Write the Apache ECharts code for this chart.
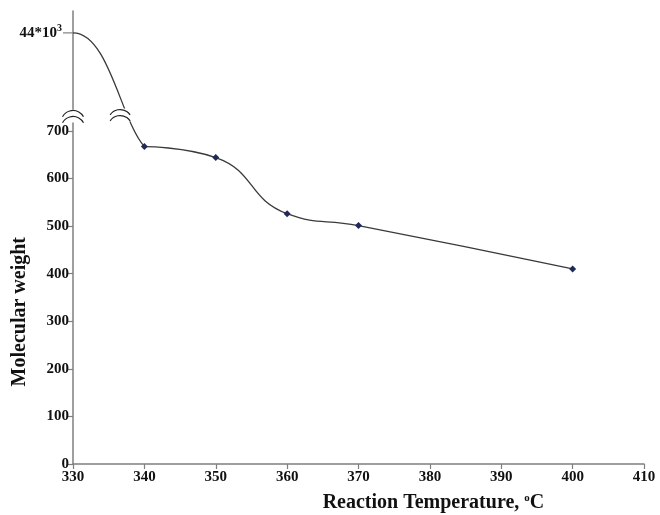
<!DOCTYPE html>
<html>
<head>
<meta charset="utf-8">
<script src="https://cdn.jsdelivr.net/npm/echarts@6/dist/echarts.min.js"></script>
<style>
  html, body { margin: 0; padding: 0; background: #fff; }
  #chart { width: 660px; height: 515px; }
</style>
</head>
<body>
<div id="chart"></div>
<script>
// data
const temperatures = [330, 340, 350, 360, 370, 400];
const molecularWeights = [44000, 667, 644, 526, 501, 410];
const xTicks = [330, 340, 350, 360, 370, 380, 390, 400, 410];
const yTicks = [0, 100, 200, 300, 400, 500, 600, 700];
const topValue = 44000;

// broken y axis: 0..700 linear, then compressed up to 44*10^3
const LOWER_MAX = 700;
const TOP_POS = 906;
const AXIS_MAX = 952;
const BREAK_POS = 745;
function toAxis(v) {
  if (v <= LOWER_MAX) return v;
  return LOWER_MAX + (v - LOWER_MAX) / (topValue - LOWER_MAX) * (TOP_POS - LOWER_MAX);
}

const font = 'Liberation Serif';
const axisColor = '#7f7f7f';
const lineColor = '#3a3a3a';

var myChart = echarts.init(document.getElementById('chart'));
myChart.setOption({
  animation: false,
  grid: { left: 73, right: 16, top: 11, bottom: 51 },
  xAxis: {
    type: 'value',
    min: 330,
    max: 410,
    interval: 10,
    splitLine: { show: false },
    axisLine: { lineStyle: { color: axisColor, width: 1.5 } },
    axisTick: { length: 5, lineStyle: { color: axisColor, width: 1.2 } },
    axisLabel: { margin: 6, color: '#111', fontFamily: font, fontWeight: 'bold', fontSize: 15 }
  },
  yAxis: {
    type: 'value',
    min: 0,
    max: AXIS_MAX,
    splitLine: { show: false },
    axisLine: { show: true, lineStyle: { color: axisColor, width: 1.5 } },
    axisTick: {
      show: true,
      length: 5,
      customValues: yTicks,
      lineStyle: { color: axisColor, width: 1.2 }
    },
    axisLabel: {
      margin: 4,
      customValues: yTicks.concat([TOP_POS]),
      color: '#111',
      fontFamily: font,
      fontWeight: 'bold',
      fontSize: 15,
      formatter: function (v) {
        if (v === TOP_POS) return '{b|44*10}{s|3}';
        return v;
      },
      rich: {
        b: { fontFamily: font, fontWeight: 'bold', fontSize: 15, color: '#111' },
        s: { fontFamily: font, fontWeight: 'bold', fontSize: 10, color: '#111', padding: [0, 7, 8, 0] }
      }
    }
  },
  series: [
    {
      // segment across the break, drawn as one bezier between the two data points
      type: 'custom',
      renderItem: function (params, api) {
        const p0 = api.coord([api.value(0), api.value(1)]);
        const p3 = api.coord([api.value(2), api.value(3)]);
        const dx = p3[0] - p0[0], dy = p3[1] - p0[1];
        return {
          type: 'bezierCurve',
          shape: {
            x1: p0[0], y1: p0[1], x2: p3[0], y2: p3[1],
            cpx1: p0[0] + 0.5 * dx, cpy1: p0[1],
            cpx2: p3[0] - 0.33 * dx, cpy2: p3[1] - 0.23 * dy
          },
          style: { stroke: lineColor, lineWidth: 1.3, fill: null }
        };
      },
      encode: { x: [0, 2], y: [1, 3] },
      data: [[temperatures[0], toAxis(molecularWeights[0]), temperatures[1], toAxis(molecularWeights[1])]],
      z: 2
    },
    {
      type: 'line',
      smooth: 0.5,
      data: temperatures.slice(1).map((t, i) => [t, toAxis(molecularWeights[i + 1])]),
      symbol: 'diamond',
      symbolSize: 7,
      itemStyle: { color: '#1f2a5a' },
      lineStyle: { color: lineColor, width: 1.3 },
      z: 3
    }
  ]
});

// break marks on the axis and on the curve
function breakMark(px, py, w) {
  const r = 12;
  const a = Math.asin(w / 2 / r);
  const arc = (top) => ({
    type: 'arc',
    shape: { cx: px, cy: top + r, r: r, startAngle: -Math.PI / 2 - a, endAngle: -Math.PI / 2 + a },
    style: { stroke: '#222', lineWidth: 1.2, fill: null },
    z: 101
  });
  return [
    { type: 'rect', shape: { x: px - w / 2, y: py, width: w, height: 13 }, style: { fill: '#fff' }, z: 100 },
    arc(py + 1),
    arc(py + 7)
  ];
}
const axisBreak = myChart.convertToPixel({ gridIndex: 0 }, [330, BREAK_POS]);
const curveBreak = myChart.convertToPixel({ gridIndex: 0 }, [336.6, BREAK_POS + 2]);
const topTick = myChart.convertToPixel({ gridIndex: 0 }, [330, TOP_POS]);
const xName = myChart.convertToPixel({ gridIndex: 0 }, [380.5, 0]);
const yName = myChart.convertToPixel({ gridIndex: 0 }, [330, 320]);

myChart.setOption({
  graphic: [
    ...breakMark(axisBreak[0], axisBreak[1], 21),
    ...breakMark(curveBreak[0], curveBreak[1], 20),
    {
      type: 'line',
      shape: { x1: topTick[0] - 10, y1: topTick[1], x2: topTick[0], y2: topTick[1] },
      style: { stroke: axisColor, lineWidth: 1.2 }
    },
    {
      type: 'text',
      x: 20, y: yName[1],
      rotation: Math.PI / 2,
      style: {
        text: 'Molecular weight',
        font: 'bold 20px "Liberation Serif"',
        fill: '#111',
        align: 'center',
        verticalAlign: 'middle'
      }
    },
    {
      type: 'text',
      x: xName[0], y: 503,
      style: {
        text: '{t|Reaction Temperature, }{s|o}{t|C}',
        align: 'center',
        verticalAlign: 'middle',
        rich: {
          t: { font: 'bold 20px "Liberation Serif"', fill: '#111' },
          s: { font: 'bold 11px "Liberation Serif"', fill: '#111', padding: [0, 0, 9, 0] }
        }
      }
    }
  ]
});
</script>
</body>
</html>
